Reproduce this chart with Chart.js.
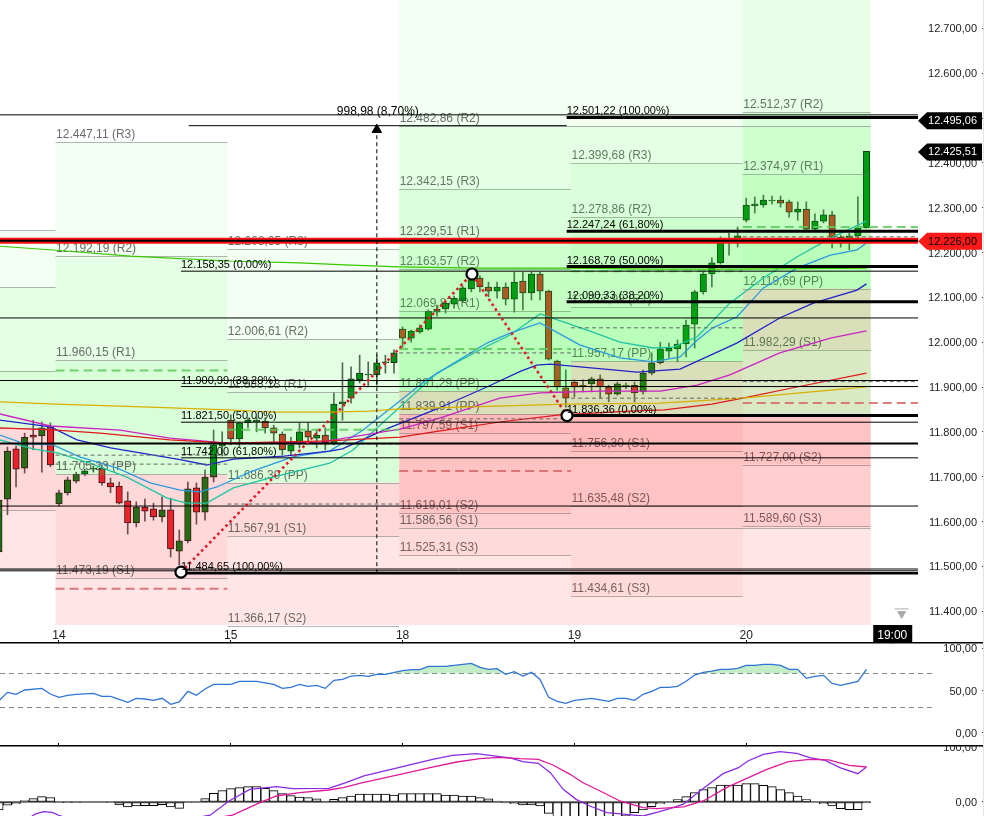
<!DOCTYPE html>
<html><head><meta charset="utf-8">
<style>
html,body{margin:0;padding:0;background:#fff;width:986px;height:816px;overflow:hidden}
canvas{position:absolute;left:0;display:block}
#edge{position:absolute;left:983px;top:0;width:1px;height:816px;background:#e4e4e4}
</style>
<script src="https://cdn.jsdelivr.net/npm/chart.js@4/dist/chart.umd.min.js"></script>
</head><body>
<canvas id="main" width="986" height="645" style="top:0"></canvas>
<canvas id="rsi" width="986" height="104" style="top:643px"></canvas>
<canvas id="macd" width="986" height="70" style="top:746px"></canvas>
<div id="edge"></div>
<script>
// ---- candles (bar index starts at firstBar; 0 = first bar of the 14th) ----
const firstBar = -7;
const open  = [11532,11650,11762,11719,11793,11791,11811,11639,11664,11690,11706,11717,11719,11686,11679,11646,11597,11632,11628,11610,11626,11534,11557,11675,11621,11699,11768,11826,11784,11820,11822,11824,11809,11795,11757,11773,11802,11786,11793,11775,11862,11875,11916,11927,11927,11954,11954,12029,12009,12023,12029,12067,12074,12085,12092,12119,12143,12123,12114,12123,12096,12136,12110,12152,12114,11958,11898,11911,11904,11907,11918,11900,11884,11902,11904,11889,11931,11954,11980,11985,11996,12040,12112,12152,12177,12226,12230,12272,12304,12306,12315,12317,12313,12290,12297,12252,12270,12284,12234,12228,12237,12255];
const high  = [11659,11766,11768,11797,11826,11822,11820,11670,11699,11710,11717,11724,11726,11697,11688,11666,11644,11650,11641,11655,11652,11581,11688,11686,11715,11804,11800,11838,11822,11831,11833,11831,11815,11800,11788,11820,11820,11804,11809,11887,11954,11945,11971,11956,11971,11971,11983,12034,12027,12038,12072,12083,12090,12103,12125,12143,12148,12134,12134,12132,12156,12156,12156,12156,12116,11960,11938,11916,11916,11922,11927,11904,11911,11909,11911,11938,11976,12000,11998,12005,12049,12116,12156,12188,12235,12243,12257,12321,12324,12328,12326,12326,12317,12313,12313,12286,12295,12292,12239,12243,12324,12425.51];
const low   = [11492,11615,11677,11708,11760,11710,11722,11635,11659,11686,11702,11710,11681,11664,11639,11572,11588,11601,11603,11599,11521,11503,11552,11594,11603,11688,11746,11771,11766,11809,11800,11797,11777,11748,11748,11764,11775,11764,11760,11771,11826,11864,11909,11900,11904,11931,11931,11989,12000,12020,12027,12058,12065,12076,12090,12112,12112,12101,12098,12083,12067,12072,12094,12094,11960,11893,11855,11878,11889,11889,11875,11867,11882,11896,11867,11884,11927,11951,11965,11956,11967,11987,12107,12123,12174,12194,12212,12268,12288,12301,12308,12301,12279,12272,12250,12250,12266,12210,12212,12206,12228,12255];
const close = [11648,11757,11717,11788,11788,11809,11726,11664,11693,11706,11713,11719,11686,11677,11641,11597,11632,11623,11610,11626,11539,11557,11673,11621,11699,11771,11773,11784,11820,11826,11826,11809,11797,11760,11771,11800,11788,11793,11775,11862,11867,11918,11931,11929,11954,11956,11976,12009,12025,12032,12069,12074,12087,12098,12121,12139,12123,12114,12123,12096,12134,12110,12152,12114,11962,11900,11875,11900,11900,11918,11900,11884,11907,11904,11887,11931,11954,11985,11987,11996,12038,12112,12152,12177,12221,12228,12237,12306,12308,12317,12317,12310,12290,12297,12252,12270,12284,12234,12228,12237,12255,12425.51];

// ---- moving averages: bar index / value vertices ----
const maGreenX  = [-6.9,-0.3,8.3,19.7,28,34,39.6,49,59.5,69,78.7,94];
const maGreen   = [12214,12205,12192,12181,12177,12172,12168,12165,12165,12163,12163,12165];
const maYellowX = [-6.9,-0.3,10.6,19.7,24.6,31.5,36.2,39.7,59.1,70,79.6,89.8,94];
const maYellow  = [11867,11862,11855,11849,11844,11844,11846,11851,11862,11864,11875,11893,11900];
const maRedX    = [-6.9,-0.3,4.8,12.9,19.7,31.5,39.7,44.4,51.3,58.3,66.5,70.5,76,79.6,85.9,94];
const maRed     = [11809,11804,11797,11782,11775,11780,11788,11802,11822,11838,11846,11849,11862,11875,11900,11931];
const maMagentaX= [-6.9,-1,7.1,12.9,19.7,30.4,39.7,44.4,51.3,56,63,70,74.3,78.1,83.9,89.8,94];
const maMagenta = [11840,11813,11804,11786,11775,11777,11806,11831,11875,11887,11891,11891,11904,11927,11976,12009,12025];
const maBlueX   = [-6.9,-1,2.1,6,14.1,17.2,20.3,26.2,31.5,33,38.2,44,49.8,53.7,55.6,57.2,67.3,72.3,78.9,83.9,87.8,92.9,94];
const maBlue    = [11826,11811,11782,11764,11738,11726,11739,11746,11757,11762,11807,11851,11900,11935,11949,11951,11933,11940,11998,12054,12087,12116,12130];
const maSkyX    = [-6.9,-4,-0.7,2.4,6.8,10.6,14.1,16.4,18.4,22.2,27.2,31.5,35.4,42.8,49.8,52.5,56,60.6,65.3,69.2,72.3,74.3,76.1,78.9,82,85.9,89.8,92.9,94];
const maSky     = [11793,11773,11771,11744,11719,11686,11670,11666,11677,11710,11744,11757,11804,11916,11998,12020,12043,11994,11965,11956,11967,12005,12032,12056,12121,12165,12194,12206,12221];
const maTealX   = [-6.9,-3,-0.2,3.6,7.9,12.6,14.9,17.2,20.3,24.9,31.5,34.2,44,49,52.5,56,61.5,65.3,69.2,71.5,74.3,78.1,82,85.9,89.8,94];
const maTeal    = [11782,11762,11753,11730,11699,11652,11641,11641,11675,11699,11730,11759,11931,11983,12016,12063,12027,12000,11987,11989,12012,12087,12143,12190,12232,12270];

// ---- pivot levels: R3 R2 R1 PP S1 S2 S3 ----
const pivotNames  = ['R3','R2','R1','PP','S1','S2','S3'];
const levelsDay13 = [12250,12123,11936,11809,11626,11494,null];
const levelsDay14 = [12447.11,12192.19,11960.15,11705.23,11473.19,11218,null];
const levelsDay15 = [12208.35,12006.61,11888.13,11686.39,11567.91,11366.17,null];
const levelsDay18 = [12342.15,12163.57,12069.87,11891.29,11797.59,11619.01,11525.31];
const levelsDay19 = [12399.68,12278.86,12077.98,11957.17,11756.30,11635.48,11434.61];
const levelsDay20 = [12767,12512.37,12374.97,12119.69,11982.29,11727.00,11589.60];
const levelsWeek  = [12873,12482.86,12229.51,11839.91,11586.56,11197,null];
const zoneAlpha   = [0.05,0.10,0.15,0.15,0.10,0.05];
const dayEdges    = [-7.5,-0.4,19.6,39.6,59.6,79.6,94.5];
const plotFloor   = 11369;

// ---- horizontal lines ----
const lineValues = [12507,12482.86,12054,11914.5,11774,11634.5,11494,11490];
const lineStarts = [-7,15.1,-7,-7,-7,-7,-7,-7];
const lineEnds   = [100,59.1,100,100,100,100,100,100];
const lineWidths = [1,1,1,1,2,1,1,1];
const fibValues  = [12158.35,11900.99,11821.50,11742.00,11484.65,12501.22,12247.24,12168.79,12090.33,11836.36];
const fibRatios  = ['0,00','38,20','50,00','61,80','100,00','100,00','61,80','50,00','38,20','0,00'];
const fibStarts  = [14.2,14.2,14.2,14.2,14.2,59.1,59.1,59.1,59.1,59.1];
const fibWidths  = [1,1,1,1,2.5,3,3,3,3,3];
const fibEnd     = 100;
const priceLine  = 12226.00;

// previous-day high / low and gray reference dashes
const dashValues = [11937,11450,11748,11728,11804.87,11639,11773,11984.99,11712.71,11976,11829,12158.04,12032,11875,12257.09,11864.41,12235,11912];
const dashStarts = [-0.4,-0.4,-0.4,-0.4,19.6,19.6,19.6,39.6,39.6,39.6,39.6,59.6,59.6,59.6,79.6,79.6,79.6,79.6];
const dashEnds   = [19.6,19.6,19.6,19.6,39.6,39.6,39.6,59.6,59.6,59.6,59.6,79.6,79.6,79.6,100,100,100,100];
const dashKinds  = ['h','l','g','g','h','g','g','h','l','g','g','h','g','g','h','l','g','g'];

// zigzag, ruler
const zigzagX = [14.2,48.08,59.14];
const zigzagV = [11487,12152,11836.36];
const rulerX  = 37;
const rulerV  = [11484.65,12482.86];
const rulerText = '998,98 (8,70%)';

// right-hand price tags
const tagValues = [12495.06,12425.51,12226.00];
const tagFill   = ['#000','#000','#ff1818'];
const tagText   = ['#fff','#fff','#000'];

// x axis
const tickBars   = [0,20,40,60,80,97];
const tickLabels = ['14','15','18','19','20','19:00'];

// RSI
const rsiX = [-6.9,-6,-5,-4,-2,-1,0,1,2,4,5,6,8,9,10,11,12,13,14,15,16,17,18,19,20,21,23,25,26,27,28,29,30,31,32,33,34,35,36,37,38,40,41,42,43,45,48,49,50,51,52,53,54,55,56,57,58,59,60,62,64,65,66,67,68,69,70,71,72,73,74,75,76,77,78,79,80,81,82,83,84,85,86,87,88,89,90,91,92,93,94];
const rsi  = [38.8,47.8,45.5,50.6,52.5,45.9,42,44.3,45.5,46.7,43.1,43.1,36.1,40.8,40,38.4,40.8,33.7,36.5,49,44.3,51.8,57.2,57.2,57.2,60.8,60.8,57.2,52.5,53.7,57.2,54.9,56,52.5,61.9,63.1,67,67.8,66.7,69,69,73.3,74.5,74.5,78.4,78.4,81.9,77.2,74.9,75.7,69,72.1,67,71.4,63.1,42,37.2,34.9,38.4,40.8,37.2,40.8,40.8,38.4,45.5,49,53.7,53.7,54.9,60.8,68.2,71.4,72.9,74.9,74.9,76,79.6,79.6,80.8,80.8,79.6,74.9,74.9,64.3,66.7,67.8,58.4,56,58.4,60.8,74.9];
const rsiLevels = [70,30];

// MACD
const macdHist = [-14.5,-6,-3,2.4,6,9.7,7.9,-0.6,-1.2,-1.2,0,0,0,-1.2,-5.5,-9,-7.3,-6.7,-6.7,-4.8,-9,-11.5,-1.2,0,6,15.8,20.6,24.2,26,27.9,27.9,24.8,20.6,15.2,11.5,9,7.9,5.5,1.8,4.8,7.9,10.9,14.5,14.5,14.5,14.5,12.7,15.2,15.2,15.2,15.2,15.2,12.7,12.7,10.9,10.9,7.9,5.5,1.8,-1.8,-3,-5.5,-5.5,-7.3,-20.6,-30,-32,-34,-32,-30,-28,-28,-27,-26,-19.4,-14.5,-8.5,-3,0,4.2,9.7,17,22.4,26,30.9,30.9,30.9,33.3,33.3,30.3,27.9,22.4,17,10.9,4.2,0,-3,-7.3,-12.1,-13.9,-13.9,-1.8];
const macdX = [-3.5,-2.8,-1.8,-0.8,0.1,3,10,17.6,19.8,22.2,25.3,27.2,31.4,33.4,35.5,40,43.5,45.8,48.6,51.3,52.5,54,55.8,57.2,58.7,60.2,61.8,63.8,66.3,68,69.6,71.1,72.7,74.6,77.3,79.1,80.2,82,83.9,85.9,87.4,89.2,90.9,93,94];
const macd  = [-30,-22,-17.6,-19,-25,-40,-45,-24,1.8,23,27.9,24.2,24.8,35,47.3,64.2,77.6,84.8,87.9,82.4,80,73.3,70.3,53.3,23,4.8,-7.3,-19.4,-23,-25.5,-19,-12,-4,20,51.5,62.4,74.5,86.7,91.5,88.5,80.6,75.8,62.4,51.5,63.6];
const signalX = [10,20.2,23.4,25.3,28,31.4,33.1,35,39.7,43.2,46.3,49,51.3,53.7,55.8,57.5,59.5,61,63,65.3,68,69.6,72.7,75,77.7,80,82.4,84.9,87.4,89.6,92,94];
const signal  = [-50,-24,-1.2,10.9,17,21.8,26,33.9,50.3,62.4,72.7,78.8,81.2,78.8,77.6,67.3,50.3,35,20,1.8,-10.3,-12,-9,1.8,26,42.4,59.4,73.3,77.6,76.4,66.7,63.6];

// ---- helpers ----
const FONT = '"Liberation Sans", Arial, sans-serif';
const fmt = v => v.toLocaleString('de-DE',{minimumFractionDigits:2,maximumFractionDigits:2});
const pts = (xs,ys) => xs.map((x,i)=>({x,y:ys[i]}));
const bars = firstBarIndex => (v,i)=>firstBarIndex+i;
const tighten = s => { s.paddingLeft=s.paddingRight=s.paddingTop=s.paddingBottom=0; };
const X_MIN=-6.868, X_MAX=107.45;

function xScale(showLabels){
  return {
    type:'linear', min:X_MIN, max:X_MAX, position:'bottom', offset:false,
    grid:{display:true,offset:false,drawOnChartArea:false,drawTicks:true,tickLength:-3,color:'#000',lineWidth:1},
    border:{display:true,color:'#000',width:1.5},
    ticks:{display:showLabels,mirror:true,autoSkip:false,maxRotation:0,minRotation:0,padding:0.6,
      font:{family:FONT,size:12},
      color:c=>c.tick && c.tick.value===97?'#fff':'#222',
      callback:v=>{const i=tickBars.indexOf(v);return i<0?'':tickLabels[i];}},
    afterBuildTicks:s=>{s.ticks=(showLabels?tickBars:tickBars.slice(0,5)).map(v=>({value:v}));},
    afterFit:s=>{tighten(s);s.height=0;}
  };
}
function yScale(min,max,step){
  return {
    type:'linear', position:'right', min, max,
    grid:{display:true,offset:false,drawOnChartArea:false,drawTicks:true,tickLength:2,color:'#333',lineWidth:1},
    border:{display:false},
    ticks:{mirror:true,stepSize:step,includeBounds:false,autoSkip:false,padding:-5,labelOffset:1,
      font:{family:FONT,size:11},color:'#222',callback:v=>fmt(v)},
    afterFit:s=>{tighten(s);s.width=0;}
  };
}
const lineDs=(data,color,width,extra)=>Object.assign({type:'line',data,borderColor:color,borderWidth:width,
  pointRadius:0,fill:false,tension:0,order:10,parsing:{xAxisKey:'x',yAxisKey:'y'}},extra||{});

// ---- main panel plugin: pivot zones on top of the candles, then labels and tags ----
const daySets = [
  {levels:levelsDay13,from:dayEdges[0],to:dayEdges[1],label:false},
  {levels:levelsDay14,from:dayEdges[1],to:dayEdges[2],label:true},
  {levels:levelsDay15,from:dayEdges[2],to:dayEdges[3],label:true},
  {levels:levelsDay18,from:dayEdges[3],to:dayEdges[4],label:true},
  {levels:levelsDay19,from:dayEdges[4],to:dayEdges[5],label:true},
  {levels:levelsDay20,from:dayEdges[5],to:dayEdges[6],label:true},
  {levels:levelsWeek,from:dayEdges[3],to:dayEdges[6],label:true}
];
const mainPlugin = {
  id:'mainDecor',
  beforeDraw(chart){
    const {ctx,scales:{x}}=chart;
    const px=x.getPixelForValue(97);
    ctx.save();ctx.fillStyle='#000';ctx.fillRect(px-19,625,39,18);ctx.restore();
  },
  afterDatasetDraw(chart,args){
    if(args.index!==0) return;
    const {ctx,chartArea,scales:{x,y}}=chart;
    ctx.save();
    ctx.beginPath();ctx.rect(chartArea.left,chartArea.top,chartArea.width,chartArea.height);ctx.clip();
    const floorY=y.getPixelForValue(plotFloor);
    daySets.forEach(set=>{
      const xa=x.getPixelForValue(set.from), xb=x.getPixelForValue(set.to);
      for(let i=0;i<6;i++){
        const hi=set.levels[i];
        let lo=set.levels[i+1];
        if(hi==null) continue;
        if(lo==null) lo = i<5 ? plotFloor : null;
        if(lo==null) continue;
        const ya=Math.max(0,y.getPixelForValue(hi));
        const yb=Math.min(floorY,y.getPixelForValue(lo));
        if(yb<=ya) continue;
        ctx.fillStyle=i<3?`rgba(0,255,0,${zoneAlpha[i]})`:`rgba(255,0,0,${zoneAlpha[i]})`;
        ctx.fillRect(xa,ya,xb-xa,yb-ya);
      }
      set.levels.forEach((v,i)=>{
        if(v==null) return;
        const py=Math.round(y.getPixelForValue(v))+0.5;
        if(py<0||py>floorY+3) return;
        ctx.strokeStyle='rgba(110,110,110,0.5)';ctx.lineWidth=1;
        ctx.beginPath();ctx.moveTo(xa,py);ctx.lineTo(xb,py);ctx.stroke();
        if(set.label){
          ctx.fillStyle='rgba(50,50,50,0.72)';
          ctx.font='12px '+FONT;ctx.textBaseline='middle';ctx.textAlign='left';
          ctx.fillText(fmt(v)+' ('+pivotNames[i]+')',xa+0.5,py-8);
        }
      });
    });
    ctx.restore();
  },
  afterDatasetsDraw(chart){
    const {ctx,scales:{x,y}}=chart;
    ctx.save();
    ctx.fillStyle='#000';ctx.font='11px '+FONT;ctx.textBaseline='middle';ctx.textAlign='left';
    fibValues.forEach((v,i)=>{
      ctx.fillText(fmt(v)+' ('+fibRatios[i]+'%)',x.getPixelForValue(fibStarts[i]),y.getPixelForValue(v)-6);
    });
    ctx.font='12px '+FONT;ctx.textAlign='center';
    ctx.fillText(rulerText,x.getPixelForValue(rulerX)+1,y.getPixelForValue(rulerV[1])-14);
    // price tags
    tagValues.forEach((v,i)=>{
      const c=y.getPixelForValue(v)+0.5;
      ctx.fillStyle=tagFill[i];
      ctx.beginPath();ctx.moveTo(918,c);ctx.lineTo(927,c-8.5);ctx.lineTo(982,c-8.5);ctx.lineTo(982,c+8.5);ctx.lineTo(927,c+8.5);ctx.closePath();ctx.fill();
      ctx.fillStyle=tagText[i];ctx.font='11px '+FONT;ctx.textAlign='right';ctx.textBaseline='middle';
      ctx.fillText(fmt(v),977,c+0.5);
    });
    ctx.restore();
  }
};

const candleX = open.map(bars(firstBar));
const bodyColors = open.map((o,i)=>close[i]>=o?'rgb(0,130,25)':'rgb(232,40,50)');
const mainDatasets = [
  {type:'bar',label:'body',data:candleX.map((k,i)=>({x:k,y:[open[i],close[i]]})),
   backgroundColor:bodyColors,borderColor:'#1a1a1a',borderWidth:1,borderSkipped:false,barThickness:6.5,grouped:false,order:100},
  {type:'bar',label:'wick',data:candleX.map((k,i)=>({x:k,y:[low[i],high[i]]})),
   backgroundColor:'#5a5a5a',borderWidth:0,barThickness:1,grouped:false,order:101},
  lineDs(pts(maGreenX,maGreen),'#38c800',1.2),
  lineDs(pts(maYellowX,maYellow),'#d8b000',1.2),
  lineDs(pts(maRedX,maRed),'#e01818',1.2),
  lineDs(pts(maMagentaX,maMagenta),'#cc22c4',1.3),
  lineDs(pts(maBlueX,maBlue),'#2222c8',1.3),
  lineDs(pts(maSkyX,maSky),'#2a9ade',1.3),
  lineDs(pts(maTealX,maTeal),'#1fc4a0',1.3)
];
dashValues.forEach((v,i)=>{
  const k=dashKinds[i];
  mainDatasets.push(lineDs([{x:dashStarts[i],y:v},{x:dashEnds[i],y:v}],
    k==='h'?'rgba(90,200,90,0.85)':k==='l'?'rgba(215,110,110,0.9)':'#666',
    k==='g'?1:2,{borderDash:k==='g'?[4,3]:[9,5],order:9}));
});
lineValues.forEach((v,i)=>{
  mainDatasets.push(lineDs([{x:lineStarts[i],y:v},{x:lineEnds[i],y:v}],'#000',lineWidths[i],{order:6}));
});
fibValues.forEach((v,i)=>{
  mainDatasets.push(lineDs([{x:fibStarts[i],y:v},{x:fibEnd,y:v}],'#000',fibWidths[i],{order:5}));
});
mainDatasets.push(lineDs([{x:-7,y:priceLine},{x:100,y:priceLine}],'#000',2,{order:3}));
mainDatasets.push(lineDs([{x:-7,y:priceLine},{x:100,y:priceLine}],'#ff1010',6,{order:4}));
mainDatasets.push(lineDs(pts([rulerX,rulerX],rulerV),'#000',1,{borderDash:[4,3],order:3}));
mainDatasets.push({type:'scatter',data:[{x:rulerX,y:rulerV[1]-9}],pointStyle:'triangle',pointRadius:5.5,
  backgroundColor:'#000',borderColor:'#000',showLine:false,order:2});
mainDatasets.push(lineDs(pts(zigzagX,zigzagV),'#dc1c28',2.6,{borderDash:[2.6,3.2],order:2}));
mainDatasets.push({type:'scatter',data:pts(zigzagX,zigzagV),pointStyle:'circle',pointRadius:5.5,borderWidth:2.2,
  backgroundColor:'#fff',borderColor:'#000',showLine:false,order:1});
mainDatasets.push({type:'scatter',data:[{x:98.1,y:11394}],pointStyle:'triangle',rotation:180,pointRadius:4.5,
  backgroundColor:'#aaa',borderColor:'#aaa',showLine:false,order:1});
mainDatasets.push({type:'scatter',data:[{x:98.1,y:11405}],pointStyle:'line',pointRadius:7,borderWidth:1,
  borderColor:'#aaa',showLine:false,order:1});

new Chart(document.getElementById('main'),{
  type:'bar',
  data:{datasets:mainDatasets},
  plugins:[mainPlugin],
  options:{
    responsive:false,animation:false,devicePixelRatio:1,
    layout:{autoPadding:false,padding:{left:0,right:4,top:0,bottom:2}},
    plugins:{legend:{display:false},tooltip:{enabled:false}},
    scales:{x:xScale(true),y:yScale(11329,12763.2,100)}
  }
});

// ---- RSI ----
new Chart(document.getElementById('rsi'),{
  type:'line',
  data:{datasets:[
    lineDs(pts(rsiX,rsi),'#2f74d6',1.3,{fill:{target:{value:rsiLevels[0]},above:'rgba(120,215,130,0.45)',below:'rgba(0,0,0,0)'},order:1}),
    lineDs([{x:X_MIN,y:rsiLevels[0]},{x:102,y:rsiLevels[0]}],'#888',1,{borderDash:[5,4],order:2}),
    lineDs([{x:X_MIN,y:rsiLevels[1]},{x:102,y:rsiLevels[1]}],'#888',1,{borderDash:[5,4],order:2})
  ]},
  options:{
    responsive:false,animation:false,devicePixelRatio:1,
    layout:{autoPadding:false,padding:{left:0,right:4,top:0,bottom:1}},
    plugins:{legend:{display:false},tooltip:{enabled:false}},
    scales:{x:xScale(false),y:yScale(-15.3,105.9,50)}
  }
});

// ---- MACD ----
const macdScaleX = xScale(false); macdScaleX.display=false;
new Chart(document.getElementById('macd'),{
  type:'bar',
  data:{datasets:[
    {type:'bar',data:macdHist.map((v,i)=>({x:firstBar+i,y:v})),backgroundColor:'#fff',borderColor:'#000',borderWidth:1,
     borderSkipped:false,barPercentage:1,categoryPercentage:1,grouped:false,order:5},
    lineDs([{x:X_MIN,y:0},{x:94.5,y:0}],'#000',1,{order:4}),
    lineDs(pts(macdX,macd),'#8a2be2',1.3,{order:2}),
    lineDs(pts(signalX,signal),'#e0189a',1.3,{order:1})
  ]},
  options:{
    responsive:false,animation:false,devicePixelRatio:1,
    layout:{autoPadding:false,padding:{left:0,right:4,top:0,bottom:0}},
    plugins:{legend:{display:false},tooltip:{enabled:false}},
    scales:{x:macdScaleX,y:yScale(-25.5,101.8,100)}
  }
});
</script>
</body></html>
